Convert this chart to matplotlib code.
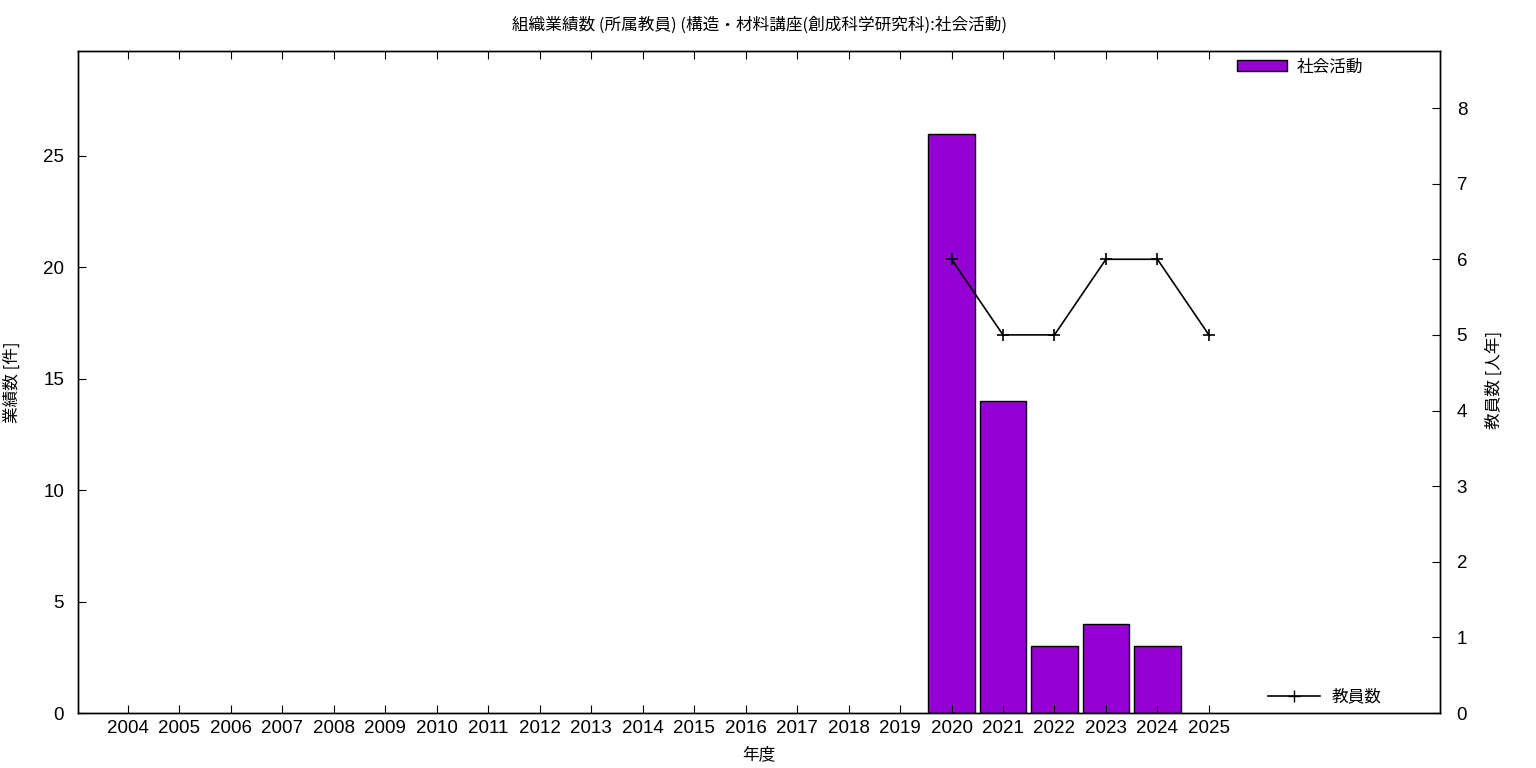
"""
組織業績数 (社会活動) の棒グラフ + 教員数の折れ線 (gnuplot 風).
"""
import matplotlib

matplotlib.use("Agg")
import matplotlib.pyplot as plt
from matplotlib.lines import Line2D
from matplotlib.patches import Patch

plt.rcParams["font.family"] = ["Noto Sans CJK JP", "DejaVu Sans"]

# ------------------------------------------------------------------
years = list(range(2004, 2026))
bar_years = [2020, 2021, 2022, 2023, 2024]
activity = [26, 14, 3, 4, 3]
staff_years = [2020, 2021, 2022, 2023, 2024, 2025]
staff = [6, 5, 5, 6, 6, 5]

title = "組織業績数 (所属教員) (構造・材料講座(創成科学研究科):社会活動)"
bar_color = "#9400d3"
num_font = ["Liberation Sans", "DejaVu Sans"]

W, H = 1536, 768
fig = plt.figure(figsize=(W / 100, H / 100), dpi=100)
ax = fig.add_axes([78 / W, 1 - 713 / H, (1440 - 78) / W, (713 - 51) / H])
ax2 = ax.twinx()

ax.bar(bar_years, activity, width=0.9, color=bar_color, edgecolor="black", linewidth=1.0)
ax2.plot(staff_years, staff, "-+", color="black", lw=1.2, ms=8, mew=1.2)

ax.set_xlim(2003.03, 2029.49)
ax.set_ylim(0, 29.71)
ax2.set_ylim(0, 8.754)

ax.set_xticks(years)
ax.set_xticklabels([str(y) for y in years])
ax.set_yticks([0, 5, 10, 15, 20, 25])
ax2.set_yticks(range(0, 9))

ax.tick_params(axis="x", direction="in", length=6, top=True, labelsize=13.5, pad=5)
ax.tick_params(axis="y", direction="in", length=6, labelsize=13.5, pad=10)
ax2.tick_params(axis="y", direction="in", length=6, labelsize=13.5, pad=12)
for lab in ax.get_xticklabels() + ax.get_yticklabels() + ax2.get_yticklabels():
    lab.set_family(num_font)

for a in (ax, ax2):
    for s in a.spines.values():
        s.set_linewidth(1.0)

ax.set_xlabel("年度", fontsize=12, labelpad=7)
ax.set_ylabel("業績数 [件]", fontsize=12, labelpad=16)
ax2.set_ylabel("教員数 [人年]", fontsize=12, rotation=90)
ax2.yaxis.set_label_coords((1486 - 78) / (1440 - 78), (713 - 380) / (713 - 51))
fig.text(759 / W, 1 - 25 / H, title, fontsize=12, ha="center", va="center")

fig.legend(handles=[Patch(facecolor=bar_color, edgecolor="black", label="社会活動")],
           loc="center left", bbox_to_anchor=(1237 / W, 1 - 67 / H),
           frameon=False, fontsize=12, handlelength=3.0, handleheight=0.6,
           handletextpad=0.6, borderpad=0, borderaxespad=0)
fig.legend(handles=[Line2D([0], [0], color="black", marker="+", lw=1.2, ms=8, label="教員数")],
           loc="center left", bbox_to_anchor=(1268 / W, 1 - 697 / H),
           frameon=False, fontsize=12, handlelength=3.1, handletextpad=0.7,
           borderpad=0, borderaxespad=0)

fig.savefig("out.png", dpi=100)
